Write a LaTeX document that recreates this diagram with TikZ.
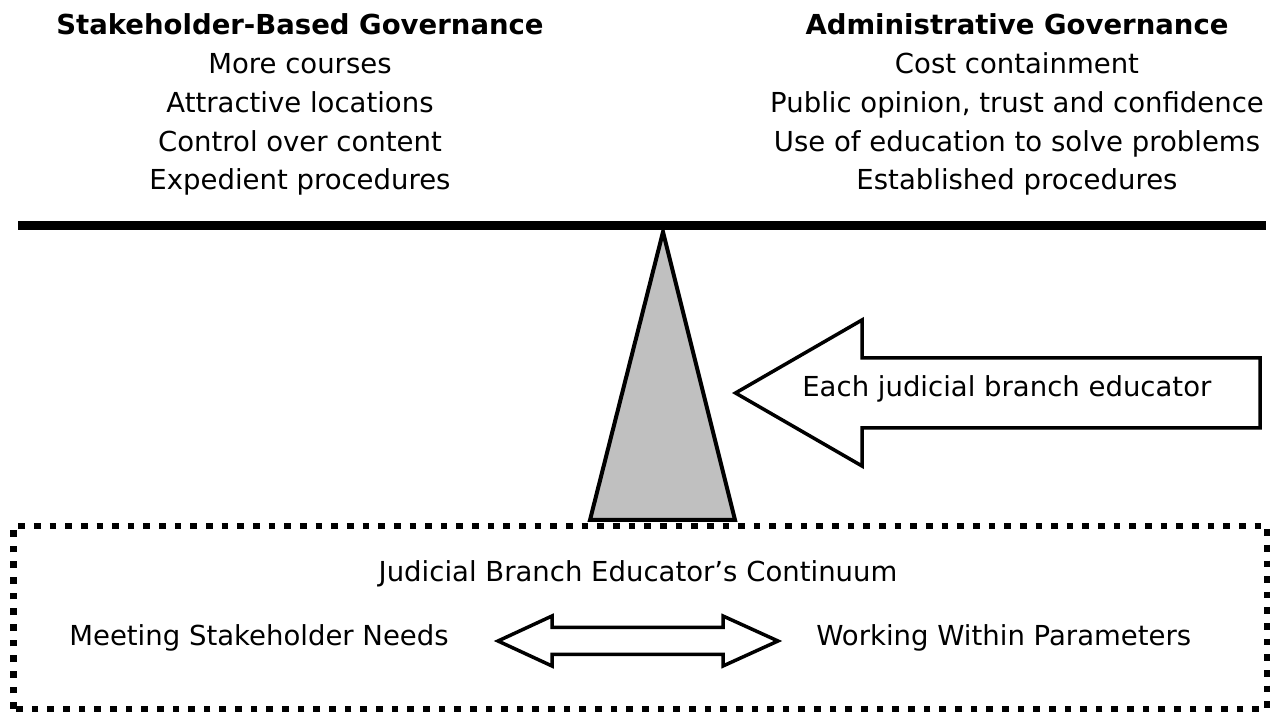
\documentclass[tikz,border=0pt]{standalone}
\usepackage{fontspec}
\setmainfont{DejaVu Sans}
\usetikzlibrary{positioning}
\definecolor{fulcrumgray}{HTML}{C0C0C0}

\begin{document}
\begin{tikzpicture}[
    txt/.style={font=\fontsize{15.66}{18}\selectfont, text=black, inner sep=0pt, anchor=base},
    headtxt/.style={txt, font=\fontsize{15.66}{18}\selectfont\bfseries},
    blockarrow/.style={draw=black, line width=0.07cm, fill=white, line join=miter},
]
\useasboundingbox (0,0) rectangle (25.56,14.26);

% left column
\node[headtxt] (stakehead) at (6.0,13.56) {Stakeholder-Based Governance};
\node[txt] (stakeA) at (6.0,12.785) {More courses};
\node[txt] (stakeB) at (6.0,12.01) {Attractive locations};
\node[txt] (stakeC) at (6.0,11.235) {Control over content};
\node[txt] (stakeD) at (6.0,10.46) {Expedient procedures};

% right column
\node[headtxt] (adminhead) at (20.34,13.56) {Administrative Governance};
\node[txt] (adminA) at (20.34,12.785) {Cost containment};
\node[txt] (adminB) at (20.34,12.01) {Public opinion, trust and confidence};
\node[txt] (adminC) at (20.34,11.235) {Use of education to solve problems};
\node[txt] (adminD) at (20.34,10.46) {Established procedures};

% continuum box
\draw[black, line width=0.133cm, dash pattern=on 0.133cm off 0.18cm] (0.27,0.08) rectangle (25.34,3.74);

% fulcrum and beam
\draw[black, line width=0.08cm, fill=fulcrumgray] (11.8,3.86) -- (13.26,9.62) -- (14.7,3.86) -- cycle;
\draw[black, line width=0.18cm] (0.36,9.75) -- (25.32,9.75);

% educator arrow
\draw[blockarrow] (14.71,6.4) -- (17.24,7.86) -- (17.24,7.1) -- (25.2,7.1) -- (25.2,5.7) -- (17.24,5.7) -- (17.24,4.94) -- cycle;
\node[txt, anchor=base west] (educator) at (16.04,6.32) {Each judicial branch educator};

% continuum
\node[txt] (continuum) at (12.76,2.62) {Judicial Branch Educator's Continuum};
\node[txt, anchor=base west] (stakeneeds) at (1.38,1.34) {Meeting Stakeholder Needs};
\node[txt, anchor=base west] (params) at (16.32,1.34) {Working Within Parameters};
\draw[blockarrow] (9.96,1.44) -- (11.04,1.94) -- (11.04,1.71) -- (14.46,1.71) -- (14.46,1.94) -- (15.56,1.44) -- (14.46,0.94) -- (14.46,1.17) -- (11.04,1.17) -- (11.04,0.94) -- cycle;

\end{tikzpicture}
\end{document}
